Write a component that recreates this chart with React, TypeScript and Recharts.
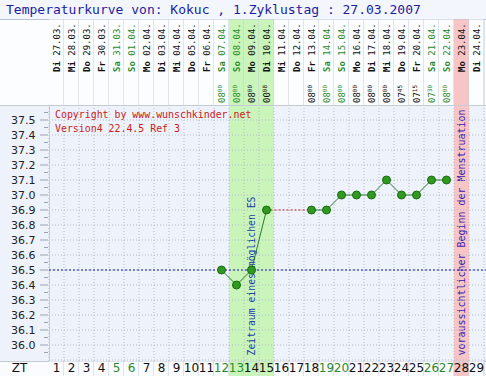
import React from 'react'
import {
  CartesianGrid,
  ComposedChart,
  Customized,
  Line,
  ReferenceArea,
  ReferenceLine,
  XAxis,
  YAxis,
} from 'recharts'

const days = [1, 2, 3, 4, 5, 6, 7, 8, 9, 10, 11, 12, 13, 14, 15, 16, 17, 18, 19, 20, 21, 22, 23, 24, 25, 26, 27, 28, 29]
const weekdays = ['Di', 'Mi', 'Do', 'Fr', 'Sa', 'So', 'Mo', 'Di', 'Mi', 'Do', 'Fr', 'Sa', 'So', 'Mo', 'Di', 'Mi', 'Do', 'Fr', 'Sa', 'So', 'Mo', 'Di', 'Mi', 'Do', 'Fr', 'Sa', 'So', 'Mo', 'Di']
const dates = ['27.03.', '28.03.', '29.03.', '30.03.', '31.03.', '01.04.', '02.04.', '03.04.', '04.04.', '05.04.', '06.04.', '07.04.', '08.04.', '09.04.', '10.04.', '11.04.', '12.04.', '13.04.', '14.04.', '15.04.', '16.04.', '17.04.', '18.04.', '19.04.', '20.04.', '21.04.', '22.04.', '23.04.', '24.04.']
const times = ['', '', '', '', '', '', '', '', '', '', '', '08:00', '08:00', '08:00', '00:08', '', '', '08:00', '08:00', '08:00', '08:00', '08:00', '08:00', '07:45', '07:15', '07:30', '08:00', '', '']
const temps = [null, null, null, null, null, null, null, null, null, null, null, 36.5, 36.4, 36.5, 36.9, null, null, 36.9, 36.9, 37.0, 37.0, 37.0, 37.1, 37.0, 37.0, 37.1, 37.1, null, null]
// gestrichelte Verbindung über die fehlenden Tage
const gapTemps = [null, null, null, null, null, null, null, null, null, null, null, null, null, null, 36.9, null, null, 36.9, null, null, null, null, null, null, null, null, null, null, null]
const fertileDays = [13, 14, 15]
const periodDay = 28
const coverline = 36.5
const yLabels = [36.0, 36.1, 36.2, 36.3, 36.4, 36.5, 36.6, 36.7, 36.8, 36.9, 37.0, 37.1, 37.2, 37.3, 37.4, 37.5]
const yMinor = [35.95, 36.05, 36.15, 36.25, 36.35, 36.45, 36.55, 36.65, 36.75, 36.85, 36.95, 37.05, 37.15, 37.25, 37.35, 37.45, 37.55]

const data = days.map((day, i) => ({ day, temp: temps[i], gap: gapTemps[i] }))

const W = 486
const H = 376
const TITLE_H = 19
const HEADER_BOTTOM = 105
const PLOT_BOTTOM = 361
const LEFT = 49
const COL = 15
const MONO = '"DejaVu Sans Mono", monospace'
const SANS = '"DejaVu Sans", sans-serif'
const GREEN_TXT = '#2b8a2b'
const LINE_CLR = '#c5cbd6'

const isWeekend = (i: number) => weekdays[i] === 'Sa' || weekdays[i] === 'So'
const colBg = (day: number, base: string) =>
  fertileDays.includes(day) ? '#c9f5bb' : day === periodDay ? '#f7c5c5' : base

function HeaderTick(props: any) {
  const { x, payload } = props
  const i = days.indexOf(payload.value)
  if (i < 0) return null
  const color = isWeekend(i) ? GREEN_TXT : '#111'
  const [hh, mm] = times[i] ? times[i].split(':') : ['', '']
  return (
    <g>
      <rect x={x - COL / 2} y={TITLE_H + 0.5} width={COL} height={HEADER_BOTTOM - TITLE_H - 0.5} fill={colBg(payload.value, '#fcfdff')} />
      <line x1={x + COL / 2} x2={x + COL / 2} y1={TITLE_H} y2={HEADER_BOTTOM} stroke={LINE_CLR} />
      <text transform={`translate(${x + 3.3},72) rotate(-90)`} fontFamily={MONO} fontSize={9} fill={color} style={{ whiteSpace: 'pre' }}>
        <tspan fontWeight="bold">{weekdays[i]}</tspan>
        <tspan>{' ' + dates[i]}</tspan>
      </text>
      {hh && (
        <text transform={`translate(${x + 3.3},103) rotate(-90)`} fontFamily={MONO} fontSize={9} fill={color}>
          <tspan>{hh}</tspan>
          <tspan fontSize={6} dy={-3}>{mm}</tspan>
        </text>
      )}
    </g>
  )
}

function DayTick(props: any) {
  const { x, payload } = props
  const i = days.indexOf(payload.value)
  if (i < 0) return null
  return (
    <g>
      <rect x={x - COL / 2} y={PLOT_BOTTOM + 0.5} width={COL} height={H - PLOT_BOTTOM} fill={colBg(payload.value, '#fbfcff')} />
      <line x1={x + COL / 2} x2={x + COL / 2} y1={PLOT_BOTTOM} y2={H} stroke={LINE_CLR} />
      <text x={x} y={372} textAnchor="middle" fontFamily={SANS} fontSize={12} fill={isWeekend(i) ? GREEN_TXT : '#111'}>
        {payload.value}
      </text>
    </g>
  )
}

function TempTick(props: any) {
  const { y, payload } = props
  const major = yLabels.some((v) => Math.abs(v - payload.value) < 0.001)
  return (
    <g>
      <line x1={major ? 40 : 44} x2={48} y1={y} y2={y} stroke="#9aa3b3" />
      {major && (
        <text x={35.5} y={y + 4} textAnchor="end" fontFamily={SANS} fontSize={11} fill="#222">
          {payload.value.toFixed(1)}
        </text>
      )}
    </g>
  )
}

function Overlay() {
  const title = 'Temperaturkurve von: Kokuc , 1.Zyklustag : 27.03.2007'
  const copy1 = 'Copyright by www.wunschkinder.net'
  const copy2 = 'Version4 22.4.5 Ref 3'
  return (
    <g>
      <text x={6} y={14} fontFamily={MONO} fontSize={13} fill="#1c1ca0" style={{ whiteSpace: 'pre' }}>
        {title}
      </text>
      <line x1={0} x2={W} y1={TITLE_H + 0.5} y2={TITLE_H + 0.5} stroke="#b9c2d4" />
      <line x1={0} x2={W} y1={HEADER_BOTTOM + 0.5} y2={HEADER_BOTTOM + 0.5} stroke={LINE_CLR} />
      <line x1={0} x2={W} y1={PLOT_BOTTOM + 0.5} y2={PLOT_BOTTOM + 0.5} stroke={LINE_CLR} />
      <line x1={LEFT + 0.5} x2={LEFT + 0.5} y1={TITLE_H} y2={H} stroke={LINE_CLR} />
      <text x={19.5} y={372} textAnchor="middle" fontFamily={SANS} fontSize={12} fill="#111">ZT</text>
      <text x={55} y={117.5} fontFamily={MONO} fontSize={11} fill="#cc1a1a" textLength={copy1.length * 5.95} lengthAdjust="spacingAndGlyphs">
        {copy1}
      </text>
      <text x={55} y={131.7} fontFamily={MONO} fontSize={11} fill="#cc1a1a" textLength={copy2.length * 5.95} lengthAdjust="spacingAndGlyphs">
        {copy2}
      </text>
    </g>
  )
}

const verticalNote = (text: string, color: string, len: number) => (p: any) => {
  const { x, y, width, height } = p.viewBox
  return (
    <text
      transform={`translate(${x + width / 2 + 3.3},${y + height - 5.5}) rotate(-90)`}
      fontFamily={MONO}
      fontSize={10}
      fill={color}
      textLength={len}
      lengthAdjust="spacingAndGlyphs"
    >
      {text}
    </text>
  )
}

export default function App() {
  const xDomain = [0.5, 0.5 + (W - LEFT) / COL]
  const yDomain = [37.6 - (PLOT_BOTTOM - HEADER_BOTTOM) / 150, 37.6]
  const colEdges = [0, ...days].map((d) => d + 0.5)
  return (
    <div
      style={{
        position: 'absolute',
        left: 0,
        top: 0,
        width: W,
        height: H,
        background: `linear-gradient(to bottom, #f3f6fd 0px, #f3f6fd ${TITLE_H}px, #fcfdff ${TITLE_H}px, #fcfdff ${HEADER_BOTTOM}px, #eef3fb ${HEADER_BOTTOM}px, #eef3fb ${PLOT_BOTTOM}px, #fbfcff ${PLOT_BOTTOM}px)`,
      }}
    >
      <ComposedChart width={W} height={H} data={data} margin={{ top: TITLE_H, right: 0, bottom: 0, left: 0 }}>
        <XAxis xAxisId="top" orientation="top" dataKey="day" type="number" domain={xDomain} allowDataOverflow ticks={days} interval={0} height={HEADER_BOTTOM - TITLE_H} tick={<HeaderTick />} tickLine={false} axisLine={false} />
        <XAxis xAxisId="bottom" dataKey="day" type="number" domain={xDomain} allowDataOverflow ticks={days} interval={0} height={H - PLOT_BOTTOM} tick={<DayTick />} tickLine={false} axisLine={false} />
        <YAxis type="number" domain={yDomain} allowDataOverflow ticks={[...yMinor, ...yLabels].sort((a, b) => a - b)} interval={0} width={LEFT} tick={<TempTick />} tickLine={false} axisLine={false} />
        <ReferenceArea xAxisId="bottom" x1={fertileDays[0] - 0.5} x2={fertileDays[fertileDays.length - 1] + 0.5} fill="#c9f5bb" fillOpacity={1} stroke="none" zIndex={-150} label={verticalNote('Zeitraum eines möglichen ES', '#1a3aa8', 159)} />
        <ReferenceArea xAxisId="bottom" x1={periodDay - 0.5} x2={periodDay + 0.5} fill="#f7c5c5" fillOpacity={1} stroke="none" zIndex={-150} label={verticalNote('voraussichtlicher Beginn der Menstruation', '#3a20b0', 246)} />
        <CartesianGrid xAxisId="bottom" horizontalValues={[35.9, ...yLabels]} verticalValues={colEdges} stroke="#b3bbcb" strokeDasharray="1 2" />
        <ReferenceLine xAxisId="bottom" y={coverline} stroke="#1a1aa0" strokeDasharray="2 2" />
        <Line xAxisId="bottom" dataKey="gap" connectNulls stroke="#d02020" strokeDasharray="2 2" strokeWidth={1} dot={false} isAnimationActive={false} />
        <Line xAxisId="bottom" dataKey="temp" stroke="#2a7a2a" strokeWidth={1} dot={{ r: 4, fill: '#2f9a1f', stroke: '#1c6a12', strokeWidth: 1 }} activeDot={false} isAnimationActive={false} />
        <Customized component={Overlay} />
      </ComposedChart>
    </div>
  )
}
